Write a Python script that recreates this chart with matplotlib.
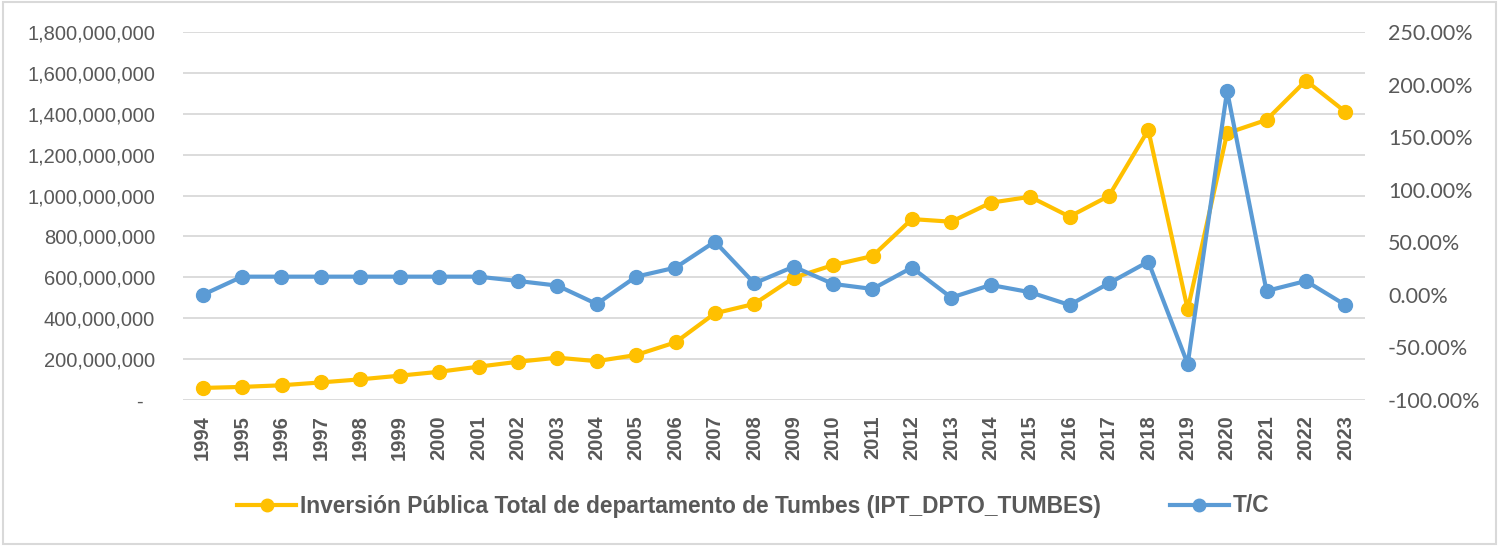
import matplotlib
matplotlib.use("Agg")
import matplotlib.pyplot as plt
from matplotlib.lines import Line2D
from matplotlib.patches import Rectangle
from matplotlib.ticker import FuncFormatter

years = list(range(1994, 2024))
ipt_tumbes = [59e6, 64e6, 72e6, 86e6, 101e6, 119e6, 138e6, 163e6, 187e6, 207e6,
              190e6, 220e6, 282e6, 424e6, 470e6, 598e6, 660e6, 704e6, 885e6, 872e6,
              965e6, 994e6, 897e6, 998e6, 1321e6, 443e6, 1305e6, 1370e6, 1562e6, 1410e6]
tc = [0.0, 17.3, 17.3, 17.3, 17.3, 17.3, 17.3, 17.3, 13.2, 8.8,
      -8.7, 17.3, 25.9, 50.6, 11.0, 26.8, 10.4, 5.6, 25.9, -2.6,
      9.4, 2.5, -9.6, 11.0, 31.6, -65.7, 194.0, 3.7, 13.2, -9.6]

yellow = "#FFC000"
blue = "#5B9BD5"
grey_txt = "#595959"
grid_c = "#D9D9D9"

fig = plt.figure(figsize=(14.99, 5.46), dpi=100)
ax = fig.add_axes([183 / 1499, 1 - 400 / 546, 1182 / 1499, 368 / 546])
ax2 = ax.twinx()

x = list(range(len(years)))
ax.plot(x, ipt_tumbes, color=yellow, lw=3, marker="o", ms=10, zorder=3)
ax2.plot(x, [v / 100 for v in tc], color=blue, lw=3, marker="o", ms=10, zorder=3)

ax.set_xlim(-0.5, len(years) - 0.5)
ax.set_ylim(0, 1.8e9)
ax.set_yticks([i * 2e8 for i in range(10)])
ax.yaxis.set_major_formatter(FuncFormatter(lambda v, p: "-  " if v == 0 else f"{v:,.0f}"))
ax2.set_ylim(-1.0, 2.5)
ax2.set_yticks([-1.0, -0.5, 0, 0.5, 1.0, 1.5, 2.0, 2.5])
ax2.yaxis.set_major_formatter(FuncFormatter(lambda v, p: f"{v * 100:.2f}%"))

ax.set_xticks(x)
ax.set_xticklabels([str(y) for y in years], rotation=90, fontsize=14.5, fontweight="bold",
                   family="Liberation Sans", color=grey_txt)

ax.grid(axis="y", color=grid_c, lw=1.3)
ax.set_axisbelow(True)
for a in (ax, ax2):
    for s in a.spines.values():
        s.set_visible(False)
ax.tick_params(axis="both", length=0)
ax.tick_params(axis="x", pad=11)
ax.tick_params(axis="y", pad=20, labelsize=14.5, labelcolor=grey_txt)
ax2.tick_params(axis="y", length=0, pad=16.5, labelsize=15.5, labelcolor=grey_txt)
for lab in ax.get_yticklabels():
    lab.set_family("Liberation Sans")
for lab in ax2.get_yticklabels():
    lab.set_family("Lato")

handles = [Line2D([0], [0], color=yellow, lw=3, marker="o", ms=9),
           Line2D([0], [0], color=blue, lw=3, marker="o", ms=9)]
fig.legend(handles, ["Inversión Pública Total de departamento de Tumbes (IPT_DPTO_TUMBES)", "T/C"],
           loc="center left", bbox_to_anchor=(237 / 1499, 1 - 506 / 546), ncol=2, frameon=False,
           borderpad=0, borderaxespad=0, handlelength=2.6, handletextpad=0.18, columnspacing=3.0,
           prop={"family": "Liberation Sans", "weight": "bold", "size": 16.4},
           labelcolor=grey_txt)

fig.patches.append(Rectangle((0.002, 0.004), 0.996, 0.992, transform=fig.transFigure,
                             fill=False, edgecolor=grid_c, lw=1.5))

fig.savefig("out.png", dpi=100)
